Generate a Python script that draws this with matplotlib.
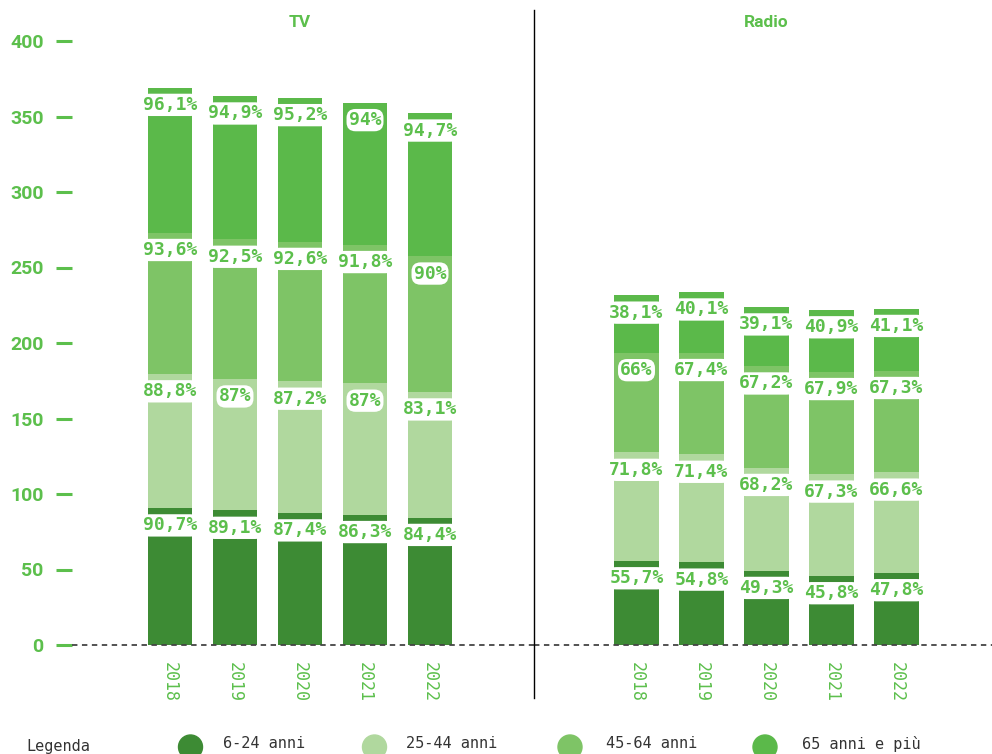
import matplotlib.pyplot as plt
import numpy as np
from matplotlib.lines import Line2D
from matplotlib.patches import Circle

years = ["2018", "2019", "2020", "2021", "2022"]
groups = ["6-24 anni", "25-44 anni", "45-64 anni", "65 anni e più"]

tv_6_24 = [90.7, 89.1, 87.4, 86.3, 84.4]
tv_25_44 = [88.8, 87.0, 87.2, 87.0, 83.1]
tv_45_64 = [93.6, 92.5, 92.6, 91.8, 90.0]
tv_65_plus = [96.1, 94.9, 95.2, 94.0, 94.7]

radio_6_24 = [55.7, 54.8, 49.3, 45.8, 47.8]
radio_25_44 = [71.8, 71.4, 68.2, 67.3, 66.6]
radio_45_64 = [66.0, 67.4, 67.2, 67.9, 67.3]
radio_65_plus = [38.1, 40.1, 39.1, 40.9, 41.1]

colors = ["#3d8b34", "#b0d89e", "#7ec466", "#5bb94a"]
TEXT_GREEN = "#5cbf4c"

W, H = 992, 754


def fmt_pct(value):
    s = f"{value:.1f}".rstrip("0").rstrip(".")
    return s.replace(".", ",") + "%"


def draw_panel(ax, title, series):
    x = np.arange(len(years))
    bottom = np.zeros(len(years))
    for values, color in zip(series, colors):
        values = np.asarray(values)
        ax.bar(x, values, bottom=bottom, width=0.68, color=color, zorder=2)
        tops = bottom + values
        for xi, top, v in zip(x, tops, values):
            ax.annotate(
                fmt_pct(v), (xi, top), xytext=(0, -12.5), textcoords="offset points",
                ha="center", va="center", fontsize=13, fontweight="bold",
                family="DejaVu Sans Mono", color=TEXT_GREEN, zorder=4,
                bbox=dict(boxstyle="round,pad=0.12,rounding_size=0.5",
                          fc="white", ec="none"),
            )
        bottom = tops

    ax.axhline(0, color="#444444", lw=1.3, ls=(0, (3, 2.5)), zorder=3, clip_on=False)
    ax.set_ylim(0, 400)
    ax.set_xticks(x)
    ax.set_xticklabels(years, rotation=270, family="DejaVu Sans Mono",
                       fontsize=12, color=TEXT_GREEN)
    ax.tick_params(axis="x", length=0, pad=12)
    for spine in ax.spines.values():
        spine.set_visible(False)
    ax.text(2, 412, title, ha="center", va="center", fontsize=12.5,
            fontweight="bold", family="Roboto", color=TEXT_GREEN, clip_on=False)


fig = plt.figure(figsize=(W / 100, H / 100), dpi=100)

ax_tv = fig.add_axes([72 / W, 109 / H, 462 / W, 604 / H])
ax_radio = fig.add_axes([534 / W, 109 / H, 458 / W, 604 / H], sharey=ax_tv)

draw_panel(ax_tv, "TV", [tv_6_24, tv_25_44, tv_45_64, tv_65_plus])
draw_panel(ax_radio, "Radio", [radio_6_24, radio_25_44, radio_45_64, radio_65_plus])

# 65 px between bar centres in both panels
ax_tv.set_xlim(-98 / 65, 364 / 65)
ax_radio.set_xlim(-102.5 / 65, 355.5 / 65)

ax_tv.set_yticks(np.arange(0, 401, 50))
ax_tv.tick_params(axis="y", direction="out", length=11.5, width=2.2,
                  color=TEXT_GREEN, pad=9, labelcolor=TEXT_GREEN, labelsize=14)
for lbl in ax_tv.get_yticklabels():
    lbl.set_fontweight("bold")
    lbl.set_family("Roboto")
ax_radio.tick_params(axis="y", left=False, labelleft=False)

# divider between the two panels
fig.add_artist(Line2D([534 / W, 534 / W], [1 - 10 / H, 1 - 698 / H],
                      transform=fig.transFigure, color="black", lw=1))

# legend strip along the bottom edge, in pixel units
ax_leg = fig.add_axes([0, 0, 1, 30 / H])
ax_leg.set_xlim(0, W)
ax_leg.set_ylim(0, 30)
ax_leg.axis("off")
ax_leg.text(26, 8, "Legenda", ha="left", va="center", fontsize=11,
            family="DejaVu Sans Mono", color="#333333")
circle_x = [190.5, 374.5, 570, 765]
label_x = [223, 406, 606, 802]
for cx, lx, color, name in zip(circle_x, label_x, colors, groups):
    ax_leg.add_patch(Circle((cx, 7), 12, color=color))
    ax_leg.text(lx, 10, name, ha="left", va="center", fontsize=11,
                family="DejaVu Sans Mono", color="#333333")

fig.savefig("out.png", dpi=100)
plt.close(fig)
